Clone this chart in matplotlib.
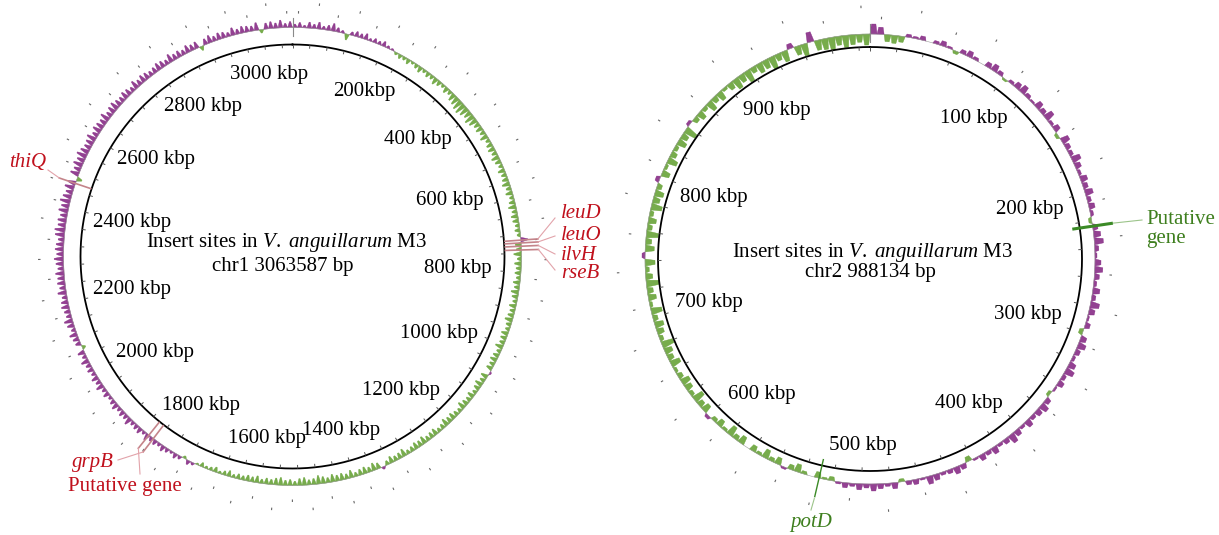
import numpy as np
import matplotlib.pyplot as plt
from matplotlib.collections import PolyCollection, LineCollection

plt.rcParams['font.family'] = ['Liberation Serif', 'DejaVu Serif']
plt.rcParams['mathtext.fontset'] = 'custom'
plt.rcParams['mathtext.rm'] = 'Liberation Serif'
plt.rcParams['mathtext.it'] = 'Liberation Serif:italic'

# ---- data ----
chr1_len = 3063587
chr2_len = 988134

chr1_ticks = [200, 400, 600, 800, 1000, 1200, 1400, 1600, 1800, 2000,
              2200, 2400, 2600, 2800, 3000]
chr1_tick_labels = ['200kbp', '400 kbp', '600 kbp', '800 kbp', '1000 kbp',
                    '1200 kbp', '1400 kbp', '1600 kbp', '1800 kbp', '2000 kbp',
                    '2200 kbp', '2400 kbp', '2600 kbp', '2800 kbp', '3000 kbp']
chr2_ticks = [100, 200, 300, 400, 500, 600, 700, 800, 900]
chr2_tick_labels = ['100 kbp', '200 kbp', '300 kbp', '400 kbp', '500 kbp',
                    '600 kbp', '700 kbp', '800 kbp', '900 kbp']

# GC skew per window (x0.01), windows evenly spread over the chromosome
chr1_skew = [
    4, 6, 3, 7, 5, 8, 4, 6, 9, 5, 3, -7, 4, 6, 5, 7, 3, 5, 4, 6,
    3, 2, -3, -5, -4, -6, -3, -5, -7, -4, -6, -5, -8, -6, -4, -7, -5, -9, -10, -12,
    -13, -11, -9, -12, -10, -7, -8, -6, -9, -5, -7, -8, -6, -9, -7, -5, -8, -6, -7, -9,
    -6, -8, -5, -7, -9, -6, -8, -7, -5, -6, -4, 8, -7, -6, -9, -5, -8, -6, -7, -5,
    -8, -6, -9, -7, -5, -8, -6, -7, -9, -6, -5, -8, -7, -6, -9, -5, -7, -8, -6, -7,
    2, -8, -6, -9, -7, -5, -8, -6, -7, -9, -5, -6, -8, -7, -9, -6, -5, -8, -7, -6,
    -9, -7, -8, -6, -5, -9, -7, -6, -8, -5, 3, -7, -9, -6, -8, -7, -5, -9, -6, -8,
    -7, -9, -6, -8, -10, -7, -6, -9, -8, -5, -7, -6, -9, -8, -6, -7, -5, -8, -6, -7,
    -5, -6, -4, -7, -5, -3, -6, -4, -3, -5, -2, 3, 5, -3, 4, 6, 3, 5, 7, 4,
    6, 5, 8, 4, 7, 6, 5, 9, 6, 7, 5, 8, 6, 4, 7, 5, 9, 6, 8, 5,
    7, 6, 9, 5, 8, -4, 6, 7, 9, 5, 8, 10, 6, 7, 9, 8, 6, 10, 7, 9,
    8, 10, 7, 9, 11, 8, 10, 9, 7, 11, 12, 9, 10, 8, 11, 9, 12, 10, 8, 11,
    9, -6, 10, 8, 11, 9, 12, 10, 8, 9, 11, 7, 10, 9, 8, 11, 7, 9, 10, 8,
    7, 9, 8, 6, 10, 7, 9, 8, 6, 7, 9, 8, 6, 10, 7, 8, 6, 9, 7, 8,
    -5, 7, 9, 6, 8, 7, 5, 9, 6, 8, 7, 6, 9, -4, 7, 8, 6, 9, 5, 7,
]
chr2_skew = [
    10, 7, -7, -8, -6, 3, 2, 4, 0, 3, 5, 2, -3, 4, 6, 3, 0, 5, 7, 4,
    -2, 3, 6, 8, 4, 2, 7, 5, 9, 3, 6, -3, 8, 5, 4, 9, 6, 3, 7, 5,
    8, 4, 6, 3, -3, 5, 7, 9, 4, 2, 6, 8, 5, 3, 7, 4, 9, 6, 2, 5,
    -4, 6, 8, 5, 3, 7, 9, 4, 6, 2, -3, 5, 8, 6, 4, 7, 3, 6, 9, 5,
    3, 7, 4, 6, 2, -5, 5, 7, 4, 3, 6, 8, 2, 5, 4, -3, 6, 3, 5, 7,
    4, 6, 3, 5, 2, -4, -2, -6, 0, -3, -8, -5, 2, -7, -4, -9, -3, -6, 0, -8,
    -5, -10, -3, -7, -4, 3, -8, -6, -11, -4, -7, -9, -5, -3, -10, -6, -8, -12, -4, -7,
    -9, -5, -11, -3, -8, -6, -13, -7, -4, -10, 3, -9, -6, -12, -5, -8, -4, -11, -7, -9,
    -5, 4, -8, -3, -10, -6, -4, -9, -7, -12, 3, -5, -8, -4, -10, -6, -9, -3, -7, -11,
    -8, -12, -6, -10, -9, -13, -7, -11, 5, -9, -12, 10, -10, -11, -13, -9, -12, -10, -8, -11,
]

chr1_genes = ['leuD', 'leuO', 'ilvH', 'rseB', 'thiQ', 'grpB', 'Putative gene']
chr1_gene_kbp = [731, 737, 744, 752, 2456, 1850, 1862]
chr2_genes = ['Putative\ngene', 'potD']
chr2_gene_kbp = [224, 530]

# ---- layout (pixels) ----
c1 = (292.5, 256.5)
c2 = (870.0, 259.0)
R = 212
purple = '#80207f'
green = '#5f9e2d'
red = '#c0101c'
dkgreen = '#3e7f1e'


def ang(kbp, L):
    return np.deg2rad(kbp * 1000.0 / L * 360.0)


def xy(c, r, th):
    return c[0] + r * np.sin(th), c[1] - r * np.cos(th)


def draw_map(ax, c, L, skew, r0, hscale, tipw, ticks, labels, minor_step, dash_step, dash_r):
    # backbone circle
    t = np.linspace(0, 2 * np.pi, 721)
    ax.plot(*xy(c, R, t), color='black', lw=1.3)
    # ticks inside circle
    segs = []
    for k in np.arange(0, L / 1000.0, minor_step):
        th = ang(k, L)
        segs.append([xy(c, R - 3.5, th), xy(c, R, th)])
    ax.add_collection(LineCollection(segs, colors='#555555', linewidths=0.7))
    # labels
    for k, lab in zip(ticks, labels):
        th = ang(k, L)
        rc = 187 - 3.0 * len(lab) * abs(np.sin(th))
        x, y = xy(c, rc, th)
        ax.text(x, y, lab, ha='center', va='center', fontsize=15)
    # gc skew ring (spiky bars)
    n = len(skew)
    w = 2 * np.pi / n
    pos, neg = [], []
    for i, v in enumerate(skew):
        if v == 0:
            continue
        r1 = r0 + v * hscale
        tm = (i + 0.5) * w
        poly = [xy(c, r0, i * w), xy(c, r1, tm - tipw * w), xy(c, r1, tm + tipw * w),
                xy(c, r0, (i + 1) * w)]
        (pos if v > 0 else neg).append(poly)
    ax.plot(*xy(c, r0, t), color='#9a9a9a', lw=0.4)
    ax.add_collection(PolyCollection(pos, facecolors=purple, edgecolors=purple,
                                     linewidths=0.3, alpha=0.85))
    ax.add_collection(PolyCollection(neg, facecolors=green, edgecolors=green,
                                     linewidths=0.3, alpha=0.85))
    ax.plot(*zip(xy(c, r0 - 8, 0), xy(c, r0 + 10, 0)), color='#8a8a8a', lw=0.8)
    # outer dashes
    segs = []
    for j, k in enumerate(np.arange(0, L / 1000.0, dash_step)):
        th = ang(k + dash_step * 0.3, L)
        rr = dash_r[j % 2]
        segs.append([xy(c, rr, th), xy(c, rr + 2.5, th)])
    ax.add_collection(LineCollection(segs, colors='#666666', linewidths=0.8))


fig = plt.figure(figsize=(12.19, 5.35), dpi=100)
ax = fig.add_axes([0, 0, 1, 1])
ax.set_xlim(0, 1219)
ax.set_ylim(535, 0)
ax.axis('off')

draw_map(ax, c1, chr1_len, chr1_skew, 229, 0.85, 0.12, chr1_ticks, chr1_tick_labels, 40, 40, (243, 252))
draw_map(ax, c2, chr2_len, chr2_skew, 225, 1.0, 0.3, chr2_ticks, chr2_tick_labels, 20, 25, (240, 251))

ax.text(287, 242, r'Insert sites in $\mathit{V.\ anguillarum}$ M3', ha='center', va='center', fontsize=15)
ax.text(283, 266, 'chr1 3063587 bp', ha='center', va='center', fontsize=15)
ax.text(873, 252, r'Insert sites in $\mathit{V.\ anguillarum}$ M3', ha='center', va='center', fontsize=15)
ax.text(870, 273, 'chr2 988134 bp', ha='center', va='center', fontsize=15)

# chr1 insert sites
chr1_lab_pos = [(561, 213), (561, 235), (561, 255), (561, 273), (46, 163), (114, 462), (68, 487)]
chr1_lab_ha = ['left', 'left', 'left', 'left', 'right', 'right', 'left']
chr1_lead_end = [(555, 218), (555, 236), (555, 254), (555, 270), (48, 170), (118, 460), (140, 474)]
for g, k, p, ha, e in zip(chr1_genes, chr1_gene_kbp, chr1_lab_pos, chr1_lab_ha, chr1_lead_end):
    th = ang(k, chr1_len)
    ax.plot(*zip(xy(c1, 213, th), xy(c1, 246, th)), color='#c4848a', lw=1.2)
    ax.plot(*zip(xy(c1, 246, th), e), color='#e2a3aa', lw=0.8)
    ax.text(p[0], p[1], g, ha=ha, va='center', fontsize=15, color=red,
            style='normal' if g.startswith('Putative') else 'italic')

# chr2 insert sites
chr2_lab_pos = [(1146, 229), (811, 522)]
chr2_lab_ha = ['left', 'center']
chr2_lead_end = [(1142, 220), (811, 510)]
chr2_lw = [2.2, 1.0]
for g, k, p, ha, e, lw in zip(chr2_genes, chr2_gene_kbp, chr2_lab_pos, chr2_lab_ha, chr2_lead_end, chr2_lw):
    th = ang(k, chr2_len)
    ax.plot(*zip(xy(c2, 206, th), xy(c2, 244, th)), color='#3b8a26', lw=lw)
    ax.plot(*zip(xy(c2, 246, th), e), color='#9cc48a', lw=0.8)
    ax.text(p[0], p[1], g, ha=ha, va='center', fontsize=15, color=dkgreen,
            linespacing=0.95, style='normal' if g.startswith('Putative') else 'italic')

fig.savefig('out.png', dpi=100)
